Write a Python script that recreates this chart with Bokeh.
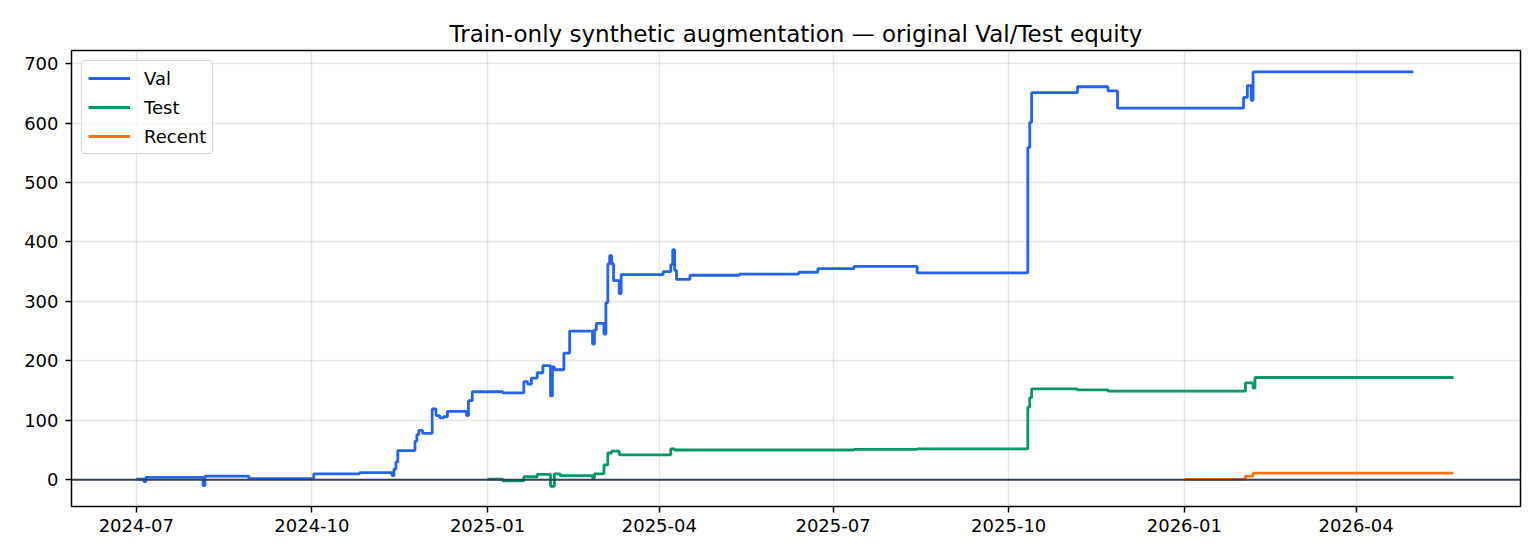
import pandas as pd
from bokeh.plotting import figure
from bokeh.models import Range1d, FixedTicker, DatetimeTickFormatter, Span
from bokeh.embed import file_html
from bokeh.resources import INLINE

TITLE = "Train-only synthetic augmentation \u2014 original Val/Test equity"

# ---- data ----
val_dates = [
    "2024-07-01", "2024-07-05", "2024-07-06", "2024-08-05", "2024-08-06", "2024-08-29",
    "2024-10-02", "2024-10-26", "2024-11-12", "2024-11-13", "2024-11-14", "2024-11-15",
    "2024-11-24", "2024-11-25", "2024-11-26", "2024-11-28", "2024-12-03", "2024-12-05",
    "2024-12-07", "2024-12-09", "2024-12-11", "2024-12-21", "2024-12-22", "2024-12-24",
    "2025-01-09", "2025-01-20", "2025-01-22", "2025-01-24", "2025-01-27", "2025-01-30",
    "2025-02-03", "2025-02-04", "2025-02-05", "2025-02-10", "2025-02-13", "2025-02-25",
    "2025-02-26", "2025-02-27", "2025-03-03", "2025-03-04", "2025-03-05", "2025-03-06",
    "2025-03-07", "2025-03-08", "2025-03-11", "2025-03-12", "2025-04-03", "2025-04-07",
    "2025-04-08", "2025-04-09", "2025-04-10", "2025-04-17", "2025-05-13", "2025-06-13",
    "2025-06-23", "2025-07-12", "2025-08-14", "2025-10-11", "2025-10-12", "2025-10-13",
    "2025-11-06", "2025-11-22", "2025-11-27", "2026-02-01", "2026-02-03", "2026-02-05",
    "2026-02-06", "2026-05-01",
]
val_values = [
    1, -3, 4, -10, 6, 2,
    10, 12, 7, 18, 30, 49,
    65, 76, 83, 78, 119, 108,
    104, 106, 115, 108, 133, 148,
    146, 165, 161, 171, 180, 192,
    141, 190, 185, 213, 250, 228,
    252, 263, 245, 298, 363, 377,
    363, 335, 313, 345, 350, 362,
    387, 352, 337, 344, 346, 349,
    355, 359, 348, 559, 601, 651,
    661, 654, 625, 643, 663, 638,
    686, 686,
]

test_dates = [
    "2025-01-01", "2025-01-09", "2025-01-20", "2025-01-27", "2025-02-03", "2025-02-05",
    "2025-02-08", "2025-02-25", "2025-02-26", "2025-03-03", "2025-03-05", "2025-03-07",
    "2025-03-11", "2025-04-07", "2025-04-09", "2025-07-12", "2025-08-14", "2025-10-11",
    "2025-10-12", "2025-10-13", "2025-11-06", "2025-11-22", "2026-02-02", "2026-02-06",
    "2026-02-07", "2026-05-22",
]
test_values = [
    1, -2, 5, 9, -11, 10,
    7, 3, 10, 25, 45, 48,
    42, 52, 50, 51, 52, 122,
    138, 153, 151, 149, 163, 154,
    172, 172,
]

recent_dates = ["2026-01-01", "2026-02-02", "2026-02-06", "2026-05-22"]
recent_values = [0.5, 6, 11, 11]

x_tick_labels = ["2024-07", "2024-10", "2025-01", "2025-04", "2025-07",
                 "2025-10", "2026-01", "2026-04"]
y_ticks = [0, 100, 200, 300, 400, 500, 600, 700]

series_names = ["Val", "Test", "Recent"]
series_colors = ["#2563eb", "#059669", "#f97316"]

FONT = "DejaVu Sans"

p = figure(
    width=1532, height=552,
    x_axis_type="datetime",
    output_backend="svg",
    toolbar_location=None,
    x_range=Range1d(pd.Timestamp("2024-05-28 02:00"), pd.Timestamp("2026-06-26 02:00")),
    y_range=Range1d(-45, 722),
    min_border_left=71, min_border_right=12, min_border_top=50, min_border_bottom=46,
    title=TITLE,
)

p.title.text_font = FONT
p.title.text_font_size = "23px"
p.title.text_font_style = "normal"
p.title.align = "center"
p.title.text_color = "#000000"
p.title.standoff = 8

all_series = [
    (val_dates, val_values),
    (test_dates, test_values),
    (recent_dates, recent_values),
]
for (d, v), name, color in zip(all_series, series_names, series_colors):
    p.step(pd.to_datetime(d), v, mode="after", line_color=color, line_width=2.8,
           legend_label=name)

p.add_layout(Span(location=0, dimension="width", line_color="#334155", line_width=1.8))

# axes
p.xaxis.ticker = FixedTicker(ticks=[pd.Timestamp(l + "-01").timestamp() * 1000 for l in x_tick_labels])
fmt = "%Y-%m"
p.xaxis.formatter = DatetimeTickFormatter(
    microseconds=fmt, milliseconds=fmt, seconds=fmt, minsec=fmt, minutes=fmt,
    hourmin=fmt, hours=fmt, days=fmt, months=fmt, years=fmt)
p.yaxis.ticker = FixedTicker(ticks=y_ticks)

for ax in (p.xaxis, p.yaxis):
    ax.axis_line_color = None
    ax.major_tick_in = 0
    ax.major_tick_out = 6
    ax.major_tick_line_color = "#000000"
    ax.major_tick_line_width = 1.5
    ax.minor_tick_line_color = None
    ax.major_label_text_font = FONT
    ax.major_label_text_font_size = "18px"
    ax.major_label_text_color = "#000000"
p.xaxis.major_label_standoff = 6
p.yaxis.major_label_standoff = 7

p.grid.grid_line_color = "#b0b0b0"
p.grid.grid_line_alpha = 0.3
p.grid.grid_line_width = 1.4

p.outline_line_color = "#000000"
p.outline_line_width = 1.5
p.background_fill_color = "#ffffff"
p.border_fill_color = "#ffffff"

lg = p.legend[0]
lg.location = "top_left"
lg.margin = 10
lg.padding = 6
lg.spacing = 7
lg.glyph_width = 42
lg.glyph_height = 22
lg.label_height = 22
lg.label_standoff = 14
lg.label_text_font = FONT
lg.label_text_font_size = "18px"
lg.label_text_color = "#000000"
lg.border_line_color = "#cccccc"
lg.border_line_alpha = 0.8
lg.border_line_width = 1.5
lg.background_fill_alpha = 0.8
try:
    lg.border_radius = 4
except Exception:
    pass

open("out.html", "w").write(file_html(p, INLINE))
